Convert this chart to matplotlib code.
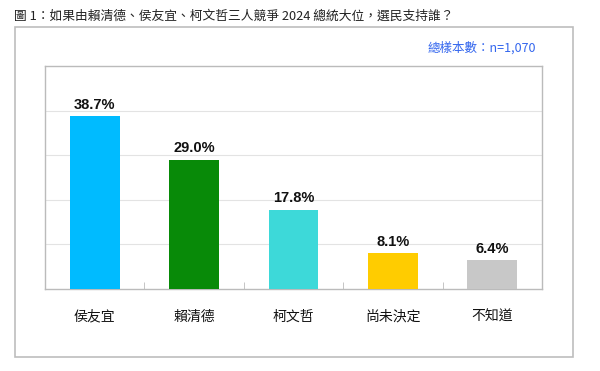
import matplotlib.pyplot as plt
from matplotlib.patches import Rectangle

plt.rcParams['font.family'] = ['Noto Sans CJK TC', 'DejaVu Sans']

# Data
candidates = ['侯友宜', '賴清德', '柯文哲', '尚未決定', '不知道']
support = [38.7, 29.0, 17.8, 8.1, 6.4]
colors = ['#00BBFF', '#088A08', '#3DD9D9', '#FFCC00', '#C8C8C8']

W, H = 600, 371
fig = plt.figure(figsize=(W / 100, H / 100), dpi=100)
fig.patch.set_facecolor('white')

# outer frame
fig.patches.append(Rectangle((15 / W, (H - 357) / H), (573 - 15) / W, (357 - 27) / H,
                             transform=fig.transFigure, fill=False,
                             edgecolor='#BDBDBD', linewidth=1.2))

fig.text(14 / W, (H - 16) / H,
         '圖 1：如果由賴清德、侯友宜、柯文哲三人競爭 2024 總統大位，選民支持誰？',
         fontsize=9.2, va='center', ha='left', color='#222222')
fig.text(536 / W, (H - 48) / H, '總樣本數：n=1,070', fontsize=9,
         color='#3366EE', ha='right', va='center')

ax = fig.add_axes([45 / W, (H - 289) / H, (542 - 45) / W, (289 - 66) / H])
x = list(range(len(candidates)))
ax.bar(x, support, width=0.5, color=colors, zorder=3)

for xi, v in zip(x, support):
    ax.annotate(f'{v:.1f}%', (xi, v), xytext=(0, 3), textcoords='offset points',
                ha='center', va='bottom', fontsize=10.5, fontweight='bold',
                family='Liberation Sans', color='#111111')

ax.set_xlim(-0.5, len(candidates) - 0.5)
ax.set_ylim(0, 50)
ax.set_yticks([10, 20, 30, 40])
ax.yaxis.grid(True, color='#E3E3E3', linewidth=0.8, zorder=0)
ax.tick_params(axis='y', length=0, labelleft=False)
ax.set_xticks(x)
ax.set_xticklabels(candidates, fontsize=10, fontweight='medium', color='#111111')
ax.tick_params(axis='x', length=0, pad=15)
ax.set_xticks([0.5, 1.5, 2.5, 3.5], minor=True)
ax.tick_params(axis='x', which='minor', direction='in', length=5, color='#BBBBBB')
for s in ax.spines.values():
    s.set_color('#BBBBBB')
    s.set_linewidth(1)

fig.savefig('out.png', dpi=100)
